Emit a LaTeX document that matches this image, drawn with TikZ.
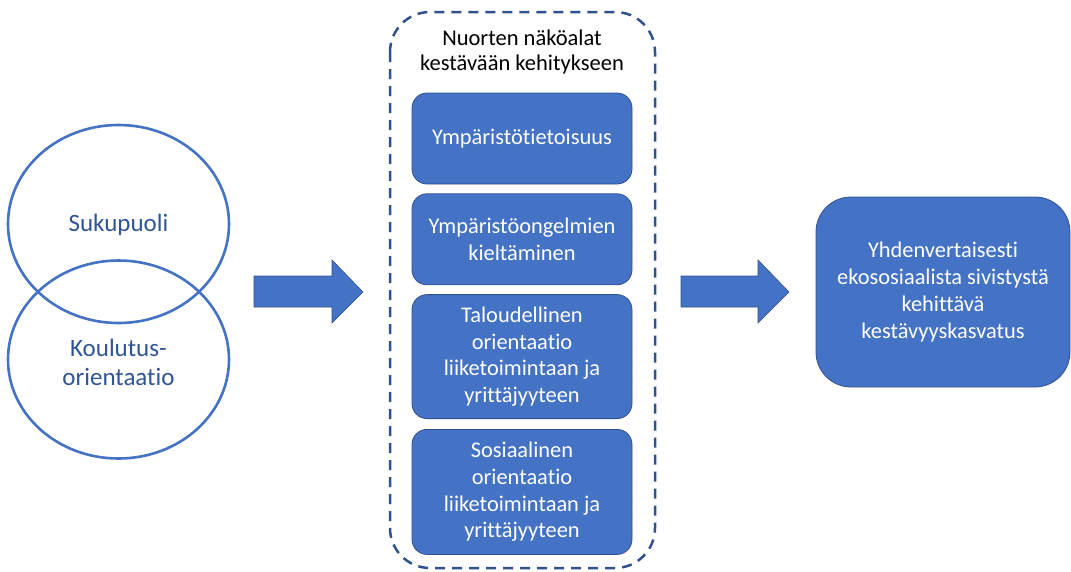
\documentclass[tikz,border=0pt]{standalone}
\usepackage{fontspec}
\setmainfont{Carlito}[Ligatures=NoCommon]
\usetikzlibrary{positioning,shapes.geometric}

\definecolor{officeblue}{HTML}{4472C4}
\definecolor{darkblue}{HTML}{2F528F}
\definecolor{textblue}{HTML}{2F5597}

\tikzset{
  bluebox/.style={rectangle, rounded corners=15pt, fill=officeblue, draw=darkblue,
    line width=0.8pt, text=white, align=center, minimum width=220pt,
    inner sep=0pt, font=\fontsize{22.4}{26.8}\selectfont},
  ring/.style={ellipse, draw=officeblue, line width=2.6pt, minimum width=221pt,
    minimum height=198pt, inner sep=0pt},
  ringlabel/.style={text=textblue, align=center, font=\fontsize{25}{29}\selectfont},
  blockarrow/.style={fill=officeblue, draw=darkblue, line width=0.6pt}
}

\begin{document}
\begin{tikzpicture}[x=1pt,y=-1pt]

        \useasboundingbox (0,0) rectangle (1071,571);

        % Overlapping circles
        \node[ring] (gender) at (118.5,224) {};
        \node[ring] (education) at (118.5,359.5) {};
        \node[ringlabel] at (118.5,225) {Sukupuoli};
        \node[ringlabel] at (118.5,362) {Koulutus-\\orientaatio};

        % Arrow 1
        \draw[blockarrow] (254,276) -- (332,276) -- (332,260) -- (363,292)
            -- (332,323) -- (332,307) -- (254,307) -- cycle;

        % Dashed frame
        \draw[darkblue, line width=2.5pt, dash pattern=on 10pt off 7pt, rounded corners=40pt]
            (390,12) rectangle (655,568);
        \node[align=center, font=\fontsize{22.5}{24.5}\selectfont] (views) at (522,52)
            {Nuorten näköalat\\kestävään kehitykseen};

        % Inner boxes
        \node[bluebox, minimum height=91pt] (aware) at (522,138.5) {Ympäristötietoisuus};
        \node[bluebox, minimum height=91pt, below=9pt of aware] (denial)
            {Ympäristöongelmien\\kieltäminen};
        \node[bluebox, minimum height=124pt, below=9pt of denial] (econ)
            {Taloudellinen\\orientaatio\\liiketoimintaan ja\\yrittäjyyteen};
        \node[bluebox, minimum height=125pt, below=10pt of econ] (social)
            {Sosiaalinen\\orientaatio\\liiketoimintaan ja\\yrittäjyyteen};

        % Arrow 2
        \draw[blockarrow] (681,276) -- (758,276) -- (758,260) -- (789,292)
            -- (758,323) -- (758,307) -- (681,307) -- cycle;

        % Result
        \node[bluebox, rounded corners=35pt, minimum width=254pt, minimum height=190pt]
            (result) at (943,292)
            {Yhdenvertaisesti\\ekososiaalista sivistystä\\kehittävä\\kestävyyskasvatus};

    \end{tikzpicture}
\end{document}
